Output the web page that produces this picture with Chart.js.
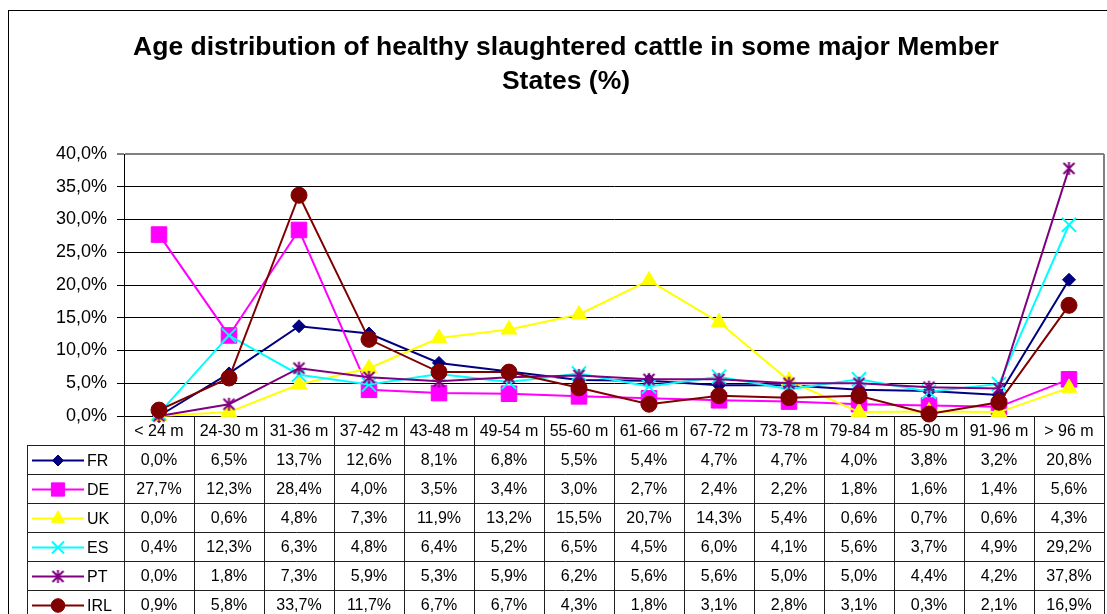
<!DOCTYPE html>
<html>
<head>
<meta charset="utf-8">
<title>Age distribution of healthy slaughtered cattle</title>
<script src="https://cdn.jsdelivr.net/npm/chart.js@4.4.0/dist/chart.umd.min.js"></script>
<style>
html, body { margin: 0; padding: 0; background: #fff; }
#wrap { width: 1107px; height: 614px; }
</style>
</head>
<body>
<div id="wrap"><canvas id="mycanvas" width="1107" height="614"></canvas></div>
<script>
var categories = ['< 24 m', '24-30 m', '31-36 m', '37-42 m', '43-48 m', '49-54 m', '55-60 m',
	'61-66 m', '67-72 m', '73-78 m', '79-84 m', '85-90 m', '91-96 m', '> 96 m'];

var seriesNames = ['FR', 'DE', 'UK', 'ES', 'PT', 'IRL'];

var fr  = [0.0, 6.5, 13.7, 12.6, 8.1, 6.8, 5.5, 5.4, 4.7, 4.7, 4.0, 3.8, 3.2, 20.8];
var de  = [27.7, 12.3, 28.4, 4.0, 3.5, 3.4, 3.0, 2.7, 2.4, 2.2, 1.8, 1.6, 1.4, 5.6];
var uk  = [0.0, 0.6, 4.8, 7.3, 11.9, 13.2, 15.5, 20.7, 14.3, 5.4, 0.6, 0.7, 0.6, 4.3];
var es  = [0.4, 12.3, 6.3, 4.8, 6.4, 5.2, 6.5, 4.5, 6.0, 4.1, 5.6, 3.7, 4.9, 29.2];
var pt  = [0.0, 1.8, 7.3, 5.9, 5.3, 5.9, 6.2, 5.6, 5.6, 5.0, 5.0, 4.4, 4.2, 37.8];
var irl = [0.9, 5.8, 33.7, 11.7, 6.7, 6.7, 4.3, 1.8, 3.1, 2.8, 3.1, 0.3, 2.1, 16.9];

var yMin = 0, yMax = 40, yStep = 5;

var titleLines = ['Age distribution of healthy slaughtered cattle in some major Member', 'States (%)'];

var FONT = '"Liberation Sans", Arial, sans-serif';

function pct(v){
	return v.toFixed(1).replace('.', ',') + '%';
}

// Excel style asterisk marker (vertical bar + X)
function asterisk(color, size){
	var c = document.createElement('canvas');
	c.width = size;
	c.height = size;
	var g = c.getContext('2d');
	g.strokeStyle = color;
	g.lineWidth = 2;
	g.beginPath();
	g.moveTo(size / 2, 1); g.lineTo(size / 2, size - 1);
	g.moveTo(2, 2); g.lineTo(size - 2, size - 2);
	g.moveTo(size - 2, 2); g.lineTo(2, size - 2);
	g.stroke();
	return c;
}

function makeSet(i, data, color, style, radius, pbw){
	return {
		label: seriesNames[i],
		data: data,
		borderColor: color,
		backgroundColor: color,
		borderWidth: 2,
		pointStyle: style,
		pointRadius: radius,
		pointBorderWidth: pbw,
		pointBackgroundColor: color,
		pointBorderColor: color,
		tension: 0,
		clip: false,
		order: 5 - i
	};
}

var datasets = [
	makeSet(0, fr, '#000080', 'rectRot', 6.5, 1),
	makeSet(1, de, '#FF00FF', 'rect', 11, 1),
	makeSet(2, uk, '#FFFF00', 'triangle', 9, 1),
	makeSet(3, es, '#00FFFF', 'crossRot', 10, 2),
	makeSet(4, pt, '#800080', asterisk('#800080', 15), 8, 2),
	makeSet(5, irl, '#800000', 'circle', 8, 1)
];

// frame, plot border and the data table under the x axis
var tablePlugin = {
	id: 'dataTable',
	beforeDraw: function(chart){
		var ctx = chart.ctx;
		ctx.save();
		ctx.fillStyle = '#fff';
		ctx.fillRect(0, 0, chart.width, chart.height);
		ctx.strokeStyle = '#000';
		ctx.lineWidth = 1;
		ctx.strokeRect(8.5, 10.5, chart.width + 20, chart.height + 20);
		ctx.restore();
	},
	afterDraw: function(chart){
		var ctx = chart.ctx;
		var area = chart.chartArea;
		var xs = chart.scales.x;
		var n = categories.length;
		var colW = (area.right - area.left) / n;
		var rowH = 29;
		var top = area.bottom;
		var legLeft = 27;

		ctx.save();
		// right border of the plot area
		ctx.strokeStyle = '#808080';
		ctx.lineWidth = 2;
		ctx.beginPath();
		ctx.moveTo(area.right, area.top);
		ctx.lineTo(area.right, area.bottom);
		ctx.stroke();

		ctx.strokeStyle = '#202020';
		ctx.lineWidth = 1;
		ctx.beginPath();
		for(var i = 0; i <= n; i++){
			var lx = Math.round(area.left + i * colW) + 0.5;
			ctx.moveTo(lx, top);
			ctx.lineTo(lx, chart.height);
		}
		for(var r = 1; r <= seriesNames.length; r++){
			var ly = Math.round(top + r * rowH) + 0.5;
			ctx.moveTo(legLeft, ly);
			ctx.lineTo(area.right, ly);
		}
		ctx.moveTo(legLeft + 0.5, Math.round(top + rowH) + 0.5);
		ctx.lineTo(legLeft + 0.5, chart.height);
		ctx.stroke();

		ctx.fillStyle = '#000';
		ctx.font = '16px ' + FONT;
		ctx.textAlign = 'center';
		ctx.textBaseline = 'middle';
		for(var c = 0; c < n; c++){
			ctx.fillText(categories[c], xs.getPixelForTick(c), top + rowH / 2 + 1);
		}

		for(var s = 0; s < datasets.length; s++){
			var cy = top + (s + 1) * rowH + rowH / 2 + 1;
			var ds = datasets[s];
			ctx.fillStyle = '#000';
			ctx.font = '16px ' + FONT;
			ctx.textAlign = 'center';
			for(var k = 0; k < n; k++){
				ctx.fillText(pct(ds.data[k]), xs.getPixelForTick(k), cy);
			}
			// legend key
			ctx.strokeStyle = ds.borderColor;
			ctx.lineWidth = 2;
			ctx.beginPath();
			ctx.moveTo(32, cy);
			ctx.lineTo(84, cy);
			ctx.stroke();
			var meta = chart.getDatasetMeta(s);
			var opts = meta.data[0].options;
			ctx.fillStyle = ds.pointBackgroundColor;
			ctx.strokeStyle = ds.pointBorderColor;
			ctx.lineWidth = opts.borderWidth;
			Chart.helpers.drawPoint(ctx, {
				pointStyle: opts.pointStyle,
				radius: opts.radius * 0.85,
				rotation: 0,
				borderWidth: opts.borderWidth
			}, 58, cy);
			ctx.fillStyle = '#000';
			ctx.font = '16px ' + FONT;
			ctx.textAlign = 'left';
			ctx.fillText(ds.label, 87, cy + 1);
		}
		ctx.restore();
	}
};

var ctx = document.getElementById('mycanvas');

var lineChart = new Chart(ctx, {
	type: 'line',
	data: {
		labels: categories,
		datasets: datasets
	},
	options: {
		responsive: false,
		animation: false,
		events: [],
		layout: {
			autoPadding: false,
			padding: { left: 28, right: 3, top: 0, bottom: 198 }
		},
		plugins: {
			legend: { display: false },
			tooltip: { enabled: false },
			title: {
				display: true,
				text: titleLines,
				color: '#000',
				font: { family: FONT, size: 26.5, weight: 'bold', lineHeight: 34 / 26.5 },
				padding: { top: 31, bottom: 55 }
			}
		},
		scales: {
			x: {
				type: 'category',
				offset: true,
				display: false
			},
			y: {
				min: yMin,
				max: yMax,
				afterFit: function(scale){ scale.width = 96; },
				ticks: {
					stepSize: yStep,
					color: '#000',
					padding: 10,
					font: { family: FONT, size: 18 },
					callback: function(v){ return pct(v); }
				},
				grid: {
					color: function(c){ return c.tick && c.tick.value === yMax ? '#808080' : '#000'; },
					lineWidth: function(c){ return c.tick && c.tick.value === yMax ? 2 : 1; },
					tickColor: '#000',
					tickLength: 7,
					tickWidth: 1
				},
				border: { display: true, color: '#000', width: 1 }
			}
		}
	},
	plugins: [tablePlugin]
});
</script>
</body>
</html>
